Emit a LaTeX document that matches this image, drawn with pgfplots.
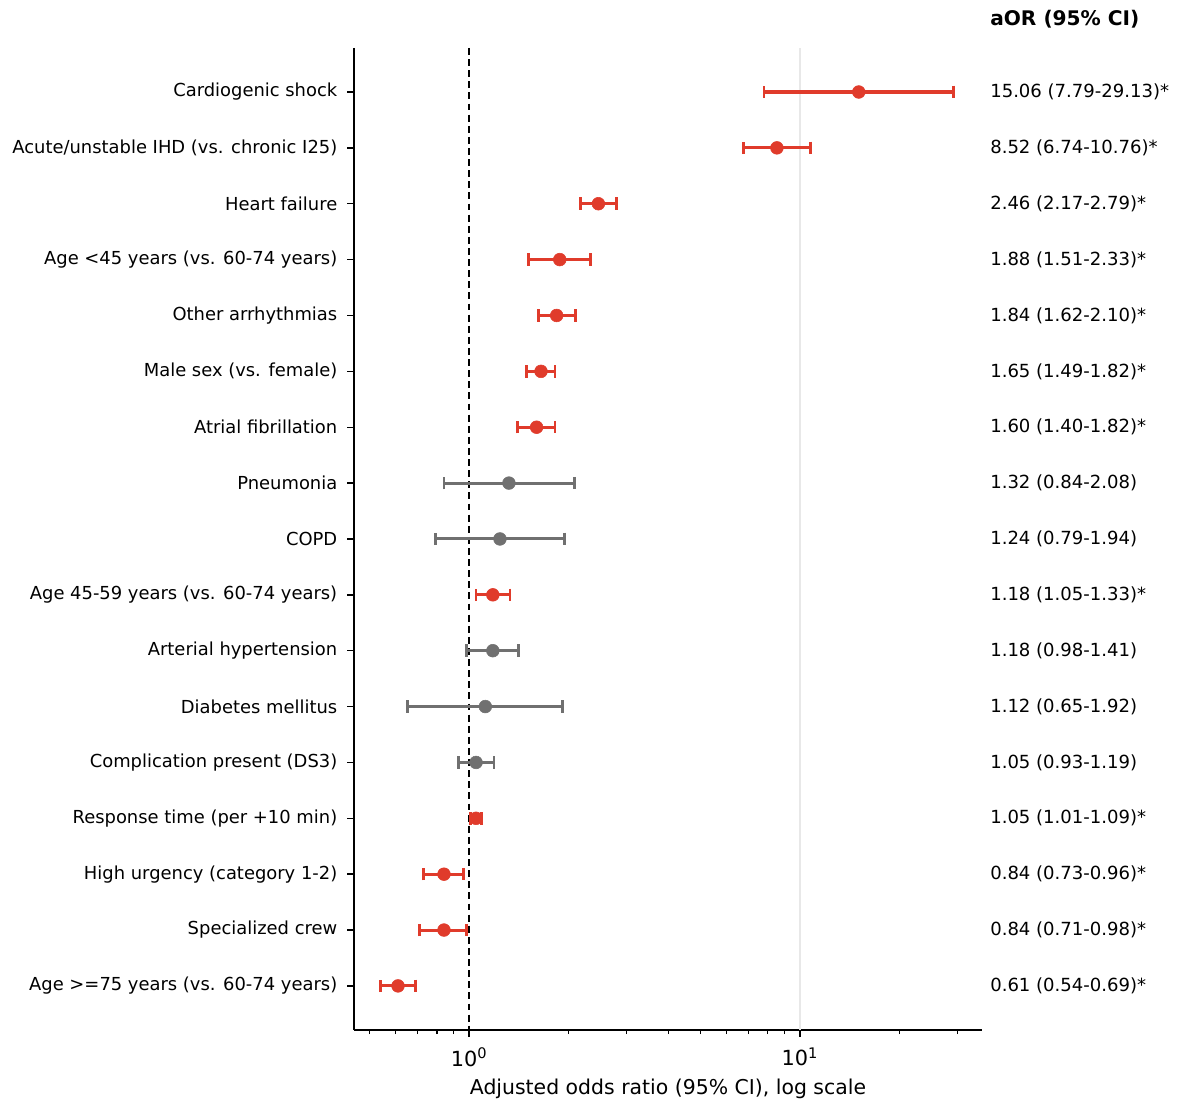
\documentclass[border=0pt]{standalone}
\usepackage{fontspec}
\setmainfont{DejaVu Sans}
\usepackage{pgfplots}
\usepackage{pgfplotstable}
\pgfplotsset{compat=1.18}
\definecolor{sigred}{RGB}{224,59,43}
\definecolor{nsgrey}{RGB}{112,112,112}

% y: row index (0 = top), or, lo, hi
\pgfplotstableread{
y or lo hi
0 15.06 7.79 29.13
1 8.52 6.74 10.76
2 2.46 2.17 2.79
3 1.88 1.51 2.33
4 1.84 1.62 2.10
5 1.65 1.49 1.82
6 1.60 1.40 1.82
9 1.18 1.05 1.33
13 1.05 1.01 1.09
14 0.84 0.73 0.96
15 0.84 0.71 0.98
16 0.61 0.54 0.69
}\sigtable
\pgfplotstableread{
y or lo hi
7 1.32 0.84 2.08
8 1.24 0.79 1.94
10 1.18 0.98 1.41
11 1.12 0.65 1.92
12 1.05 0.93 1.19
}\nstable

\begin{document}
\begin{tikzpicture}
\begin{axis}[
  scale only axis,
  width=452.2pt, height=707pt,
  xmode=log,
  xmin=0.449, xmax=35.5,
  ymin=-0.7875, ymax=16.7875,
  y dir=reverse,
  axis x line*=bottom, axis y line*=left,
  axis line style={line width=1pt, black},
  tick align=outside,
  major tick length=5pt, minor tick length=3pt,
  every tick/.style={black, line width=1pt},
  minor tick style={black, line width=0.8pt},
  xtick={1,10},
  xticklabels={10\textsuperscript{0},10\textsuperscript{1}},
  minor xtick={0.5,0.6,0.7,0.8,0.9,2,3,4,5,6,7,8,9,20,30},
  ytick={0,...,16},
  yticklabels={{Cardiogenic shock},{Acute/unstable IHD (vs. chronic I25)},{Heart failure},{Age <45 years (vs. 60-74 years)},{Other arrhythmias},{Male sex (vs. female)},{Atrial fibrillation},{Pneumonia},{COPD},{Age 45-59 years (vs. 60-74 years)},{Arterial hypertension},{Diabetes mellitus},{Complication present (DS3)},{Response time (per +10 min)},{High urgency (category 1-2)},{Specialized crew},{Age >=75 years (vs. 60-74 years)}},
  yticklabel style={font=\fontsize{12.9}{15}\selectfont, xshift=-3.5pt},
  xticklabel style={font=\fontsize{15}{17}\selectfont, yshift=-4.5pt},
  xlabel={Adjusted odds ratio (95\% CI), log scale},
  xlabel style={font=\fontsize{14.7}{17}\selectfont, yshift=-2pt},
  clip=false,
]
\draw[black!9, line width=1pt] (axis cs:10,-0.7875) -- (axis cs:10,16.7875);
\draw[black, line width=1.4pt, dash pattern=on 5pt off 3pt] (axis cs:1,-0.7875) -- (axis cs:1,16.7875);

\addplot[only marks, mark=*, mark size=4.6pt, color=sigred,
  error bars/.cd, x dir=both, x explicit,
  error bar style={line width=2.2pt, color=sigred},
  error mark options={rotate=90, mark size=4.5pt, line width=2pt, color=sigred}]
  table[x=or, y=y, x error plus expr=\thisrow{hi}-\thisrow{or}, x error minus expr=\thisrow{or}-\thisrow{lo}] {\sigtable};
\addplot[only marks, mark=*, mark size=4.6pt, color=nsgrey,
  error bars/.cd, x dir=both, x explicit,
  error bar style={line width=2.2pt, color=nsgrey},
  error mark options={rotate=90, mark size=4.5pt, line width=2pt, color=nsgrey}]
  table[x=or, y=y, x error plus expr=\thisrow{hi}-\thisrow{or}, x error minus expr=\thisrow{or}-\thisrow{lo}] {\nstable};

\foreach \i/\t in {0/{15.06 (7.79-29.13)*},1/{8.52 (6.74-10.76)*},2/{2.46 (2.17-2.79)*},3/{1.88 (1.51-2.33)*},4/{1.84 (1.62-2.10)*},5/{1.65 (1.49-1.82)*},6/{1.60 (1.40-1.82)*},7/{1.32 (0.84-2.08)},8/{1.24 (0.79-1.94)},9/{1.18 (1.05-1.33)*},10/{1.18 (0.98-1.41)},11/{1.12 (0.65-1.92)},12/{1.05 (0.93-1.19)},13/{1.05 (1.01-1.09)*},14/{0.84 (0.73-0.96)*},15/{0.84 (0.71-0.98)*},16/{0.61 (0.54-0.69)*}}{
  \edef\temp{\noexpand\node[anchor=west, inner sep=0pt, xshift=5.76pt, font=\noexpand\fontsize{13}{15}\noexpand\selectfont] at (axis cs:35.5,\i) {\unexpanded\expandafter{\t}};}
  \temp
}
\node[anchor=west, inner sep=0pt, xshift=5.76pt, yshift=21pt, font=\fontsize{14.5}{17}\selectfont\bfseries] at (axis cs:35.5,-0.7875) {aOR (95\% CI)};
\end{axis}
\pgfresetboundingbox
\useasboundingbox ([shift={(-254.88pt,-56.16pt)}]current axis.south west) rectangle ([shift={(141.12pt,34.56pt)}]current axis.north east);
\end{tikzpicture}
\end{document}
